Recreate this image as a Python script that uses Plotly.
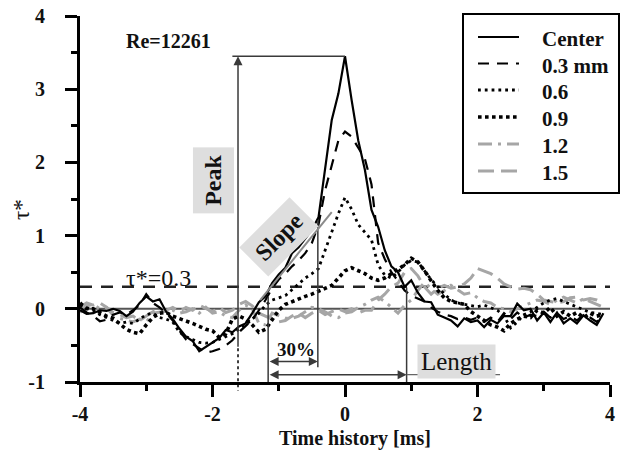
import plotly.graph_objects as go

time_ms = [-4.0, -3.9, -3.8, -3.7, -3.6, -3.5, -3.4, -3.3, -3.2, -3.1,
           -3.0, -2.9, -2.8, -2.7, -2.6, -2.5, -2.4, -2.3, -2.2, -2.1,
           -2.0, -1.9, -1.8, -1.7, -1.6, -1.5, -1.4, -1.3, -1.2, -1.1,
           -1.0, -0.9, -0.8, -0.7, -0.6, -0.5, -0.4, -0.3, -0.2, -0.1,
           0.0, 0.1, 0.2, 0.3, 0.4, 0.5, 0.6, 0.7, 0.8, 0.9,
           1.0, 1.1, 1.2, 1.3, 1.4, 1.5, 1.6, 1.7, 1.8, 1.9,
           2.0, 2.1, 2.2, 2.3, 2.4, 2.5, 2.6, 2.7, 2.8, 2.9,
           3.0, 3.1, 3.2, 3.3, 3.4, 3.5, 3.6, 3.7, 3.8, 3.9]

center = [-0.02, -0.07, -0.06, -0.02, -0.03, 0.0, -0.03, -0.1, -0.04, 0.08,
          0.17, 0.1, 0.13, -0.04, -0.14, -0.27, -0.38, -0.44, -0.58, -0.52,
          -0.46, -0.4, -0.29, -0.32, -0.24, -0.2, -0.06, 0.09, 0.17, 0.35,
          0.47, 0.56, 0.76, 0.84, 0.96, 1.08, 1.25, 1.95, 2.58, 2.94,
          3.45, 2.85, 2.3, 1.9, 1.35, 1.12, 0.8, 0.58, 0.5, 0.3,
          0.39, 0.22, 0.1, 0.09, -0.08, -0.12, -0.16, -0.24, -0.13, -0.18,
          -0.16, -0.25, -0.15, -0.2, -0.1, -0.1, 0.07, -0.02, 0.0, -0.16,
          -0.05, -0.18, -0.05, -0.2, -0.13, -0.2, -0.09, -0.16, -0.22, -0.06]

mm_03 = [0.02, -0.05, -0.1, -0.17, -0.15, -0.08, -0.05, -0.08, -0.02, 0.05,
         0.2, 0.08, 0.02, -0.06, -0.16, -0.3, -0.42, -0.48, -0.55, -0.6,
         -0.58, -0.55, -0.5, -0.43, -0.32, -0.24, -0.15, -0.02, 0.12, 0.28,
         0.4, 0.48, 0.58, 0.66, 0.76, 0.9, 1.15, 1.62, 1.98, 2.3,
         2.42, 2.35, 2.2, 2.05, 1.7, 0.9, 0.68, 0.5, 0.38, 0.25,
         0.18, 0.14, 0.1, 0.02, -0.04, -0.08, -0.1, -0.14, -0.12, -0.15,
         -0.12, -0.18, -0.12, -0.18, -0.06, -0.14, -0.05, -0.12, -0.08, -0.1,
         -0.04, -0.12, -0.06, -0.14, -0.1, -0.16, -0.08, -0.12, -0.18, -0.1]

mm_06 = [0.05, 0.02, -0.02, -0.08, -0.12, -0.15, -0.2, -0.18, -0.2, -0.14,
         -0.08, -0.06, -0.12, -0.14, -0.18, -0.32, -0.38, -0.42, -0.46, -0.47,
         -0.46, -0.42, -0.38, -0.34, -0.28, -0.22, -0.14, -0.06, 0.05, 0.12,
         0.15, 0.18, 0.26, 0.34, 0.42, 0.48, 0.55, 0.8, 1.05, 1.3,
         1.52, 1.36, 1.15, 1.05, 0.94, 0.6, 0.46, 0.42, 0.5, 0.6,
         0.66, 0.64, 0.52, 0.4, 0.3, 0.2, 0.12, 0.08, 0.06, 0.04,
         0.03, 0.05, 0.02, -0.02, -0.1, -0.26, -0.18, -0.08, -0.04, 0.02,
         0.08, 0.12, 0.14, 0.1, 0.06, 0.02, -0.02, -0.05, -0.06, -0.08]

mm_09 = [0.08, 0.0, 0.0, -0.05, -0.1, -0.13, -0.2, -0.28, -0.32, -0.34,
         -0.22, -0.12, -0.06, -0.05, -0.1, -0.13, -0.16, -0.2, -0.24, -0.28,
         -0.3, -0.39, -0.34, -0.14, -0.1, -0.14, -0.22, -0.32, -0.28, -0.15,
         -0.02, 0.06, 0.1, 0.14, 0.17, 0.2, 0.24, 0.28, 0.32, 0.42,
         0.52, 0.56, 0.52, 0.48, 0.42, 0.39, 0.42, 0.48, 0.53, 0.6,
         0.69, 0.64, 0.52, 0.38, 0.25, 0.15, 0.1, 0.08, 0.06, -0.04,
         -0.1, -0.16, -0.22, -0.25, -0.3, -0.2, -0.14, -0.1, -0.12, -0.02,
         -0.06, 0.02, -0.1, -0.04, -0.1, -0.05, -0.12, -0.06, -0.1, -0.08]

mm_12 = [-0.05, 0.04, 0.06, 0.0, 0.02, -0.09, -0.13, -0.15, -0.18, -0.14,
         -0.18, -0.06, -0.05, -0.03, -0.02, -0.06, -0.04, 0.0, -0.06, 0.02,
         -0.06, -0.04, -0.1, -0.12, -0.02, 0.05, 0.0, -0.2, -0.22, -0.06,
         -0.1, -0.13, -0.13, -0.1, -0.04, 0.02, 0.0, -0.04, -0.1, -0.12,
         -0.06, -0.04, 0.02, 0.06, 0.12, 0.16, 0.1, 0.02, -0.06, 0.05,
         0.12, 0.25, 0.36, 0.28, 0.2, 0.25, 0.32, 0.26, 0.2, 0.22,
         0.15, 0.1, 0.08, 0.02, 0.0, -0.04, 0.0, 0.04, 0.08, 0.12,
         0.1, 0.06, 0.12, 0.16, 0.12, 0.08, 0.14, 0.1, 0.06, 0.02]

mm_15 = [0.02, 0.08, 0.05, 0.08, 0.02, -0.05, -0.08, -0.12, -0.1, -0.16,
         -0.1, -0.04, 0.0, -0.02, 0.02, -0.04, 0.02, -0.02, 0.05, 0.0,
         -0.04, 0.02, -0.05, -0.02, 0.06, 0.1, 0.04, -0.06, -0.1, -0.14,
         -0.18, -0.16, -0.1, -0.06, -0.12, -0.06, -0.02, -0.08, -0.04, 0.0,
         -0.04, 0.0, -0.06, -0.02, -0.02, 0.12, 0.2, 0.3, 0.35, 0.5,
         0.55, 0.45, 0.3, 0.2, 0.28, 0.32, 0.28, 0.3, 0.34, 0.42,
         0.55, 0.52, 0.48, 0.42, 0.34, 0.3, 0.27, 0.28, 0.26, 0.2,
         0.12, 0.1, 0.08, 0.1, 0.15, 0.16, 0.12, 0.14, 0.12, 0.08]

series_names = ["Center", "0.3 mm", "0.6", "0.9", "1.2", "1.5"]

x_tickvals = [-4, -2, 0, 2, 4]
x_ticktext = ["-4", "-2", "0", "2", "4"]
y_tickvals = [-1, 0, 1, 2, 3, 4]
y_ticktext = ["-1", "0", "1", "2", "3", "4"]

threshold = 0.3
peak_x, peak_top, peak_bottom = -1.615, 3.45, -0.54
x_start30, x_30, x_len = -1.16, -0.41, 0.93

X_RANGE = [-4, 4]
Y_RANGE = [-1, 4]

# the page's default 8px body margin is removed by a post script,
# so the figure fills the 624x452 window exactly
W, H = 624, 452
ML, MR, MT, MB = 80, 14, 16, 70
PW, PH = W - ML - MR, H - MT - MB

FONT = "Liberation Serif"
GRAY = "#a6a6a6"
DARK = "#3a3a3a"
TXT = "#111111"

styles = [
    dict(color="black", width=2.2, dash="solid"),
    dict(color="black", width=2.2, dash="11px,8px"),
    dict(color="black", width=2.8, dash="2.8px,4px"),
    dict(color="black", width=3.6, dash="3.6px,3.4px"),
    dict(color=GRAY, width=3, dash="14px,6px,3px,6px"),
    dict(color=GRAY, width=3, dash="16px,7px"),
]
data_series = [center, mm_03, mm_06, mm_09, mm_12, mm_15]


def px_x(px):
    return (px - ML) / PW


def px_y(py):
    return (H - MB - py) / PH


fig = go.Figure()
draw_order = [4, 5, 3, 2, 1, 0]
for i in draw_order:
    fig.add_trace(go.Scatter(
        x=time_ms, y=data_series[i], mode="lines", name=series_names[i],
        line=styles[i], showlegend=False,
    ))

shapes = []
shapes.append(dict(type="line", xref="x", yref="y", x0=X_RANGE[0], x1=X_RANGE[1], y0=0, y1=0,
                   line=dict(color="#555555", width=2), layer="below"))
shapes.append(dict(type="line", xref="x", yref="y", x0=X_RANGE[0], x1=X_RANGE[1], y0=threshold, y1=threshold,
                   line=dict(color="#222222", width=2.5, dash="12px,9px"), layer="below"))
shapes.append(dict(type="line", xref="x", yref="y", x0=-1.7, x1=0, y0=peak_top, y1=peak_top,
                   line=dict(color=DARK, width=1.5)))
yspan = Y_RANGE[1] - Y_RANGE[0]
shapes.append(dict(type="line", xref="x", yref="paper", x0=peak_x, x1=peak_x,
                   y0=(peak_bottom - Y_RANGE[0]) / yspan, y1=(-1.12 - Y_RANGE[0]) / yspan,
                   line=dict(color="black", width=1.5, dash="3px,3px")))
shapes.append(dict(type="line", xref="x", yref="y", x0=x_start30, x1=x_start30, y0=-1.0, y1=0.16,
                   line=dict(color=DARK, width=1.5)))
shapes.append(dict(type="line", xref="x", yref="y", x0=x_30, x1=x_30, y0=-0.8, y1=1.21,
                   line=dict(color=DARK, width=1.5)))
shapes.append(dict(type="line", xref="x", yref="y", x0=x_len, x1=x_len, y0=-1.0, y1=0.29,
                   line=dict(color=DARK, width=1.5)))
shapes.append(dict(type="line", xref="x", yref="y", x0=-1.28, x1=-0.2, y0=0.12, y1=1.32,
                   line=dict(color="#8a8a8a", width=2)))
shapes.append(dict(type="line", xref="x", yref="y", x0=x_len, x1=2.34, y0=-0.9, y1=-0.9,
                   line=dict(color="#666666", width=1.2)))

# manual legend box
shapes.append(dict(type="rect", xref="paper", yref="paper",
                   x0=px_x(463), x1=px_x(619), y0=px_y(193), y1=px_y(14),
                   line=dict(color="black", width=2), fillcolor="white", layer="above"))
legend_line_y = [37, 63.5, 90, 117, 144, 171]
annotations = []
for i, name in enumerate(series_names):
    ly = legend_line_y[i]
    shapes.append(dict(type="line", xref="paper", yref="paper",
                       x0=px_x(478), x1=px_x(519), y0=px_y(ly), y1=px_y(ly),
                       line=styles[i], layer="above"))
    annotations.append(dict(x=px_x(540), y=px_y(ly + 2), xref="paper", yref="paper",
                            xanchor="left", yanchor="middle", text=name, showarrow=False,
                            font=dict(family=FONT, size=21, color=TXT, weight="bold")))

annotations.append(dict(x=peak_x, y=peak_top, ax=peak_x, ay=peak_bottom, xref="x", yref="y",
                        axref="x", ayref="y", text="", showarrow=True, arrowhead=2,
                        arrowsize=1.2, arrowwidth=1.5, arrowcolor=DARK))
annotations.append(dict(x=x_30, y=-0.72, ax=x_start30, ay=-0.72, xref="x", yref="y",
                        axref="x", ayref="y", text="", showarrow=True, arrowhead=2,
                        arrowside="end+start", arrowsize=1.2, arrowwidth=1.5, arrowcolor=DARK))
annotations.append(dict(x=x_len, y=-0.9, ax=x_start30, ay=-0.9, xref="x", yref="y",
                        axref="x", ayref="y", text="", showarrow=True, arrowhead=2,
                        arrowside="end+start", arrowsize=1.2, arrowwidth=1.5, arrowcolor=DARK))


def label(text, x, y, size, bold=False, **kw):
    d = dict(x=x, y=y, xref="x", yref="y", text=text, showarrow=False,
             font=dict(family=FONT, size=size, color=TXT,
                       weight="bold" if bold else "normal"))
    d.update(kw)
    return d


annotations.append(label("Re=12261", -2.67, 3.66, 20, bold=True))
annotations.append(label("τ*=0.3", -2.82, 0.42, 24))
annotations.append(label("30%", -0.74, -0.55, 19, bold=True))
annotations.append(label("Peak", -1.99, 1.75, 24, bold=True, textangle=-90,
                         bgcolor="#dedede", borderpad=7))
annotations.append(label("Slope", -1.0, 0.98, 24, bold=True, textangle=-45,
                         bgcolor="#dedede", borderpad=7))
annotations.append(label("Length", 1.69, -0.72, 25, bgcolor="#dedede", borderpad=3))
annotations.append(dict(x=px_x(22), y=(1.35 - Y_RANGE[0]) / yspan, xref="paper", yref="paper",
                        xanchor="center", yanchor="middle",
                        text="τ*", showarrow=False, textangle=-90,
                        font=dict(family=FONT, size=23, color=TXT)))
annotations.append(dict(x=px_x(355), y=px_y(438), xref="paper", yref="paper",
                        xanchor="center", yanchor="middle",
                        text="Time history [ms]", showarrow=False,
                        font=dict(family=FONT, size=20, color=TXT, weight="bold")))

axis_common = dict(
    showline=True, linecolor="black", linewidth=3, mirror=False,
    showgrid=False, zeroline=False,
    ticks="outside", ticklen=12, tickwidth=3, tickcolor="black",
    tickfont=dict(family=FONT, size=20, color=TXT, weight="bold"),
    ticklabeloverflow="allow",
)

fig.update_layout(
    width=W, height=H,
    margin=dict(l=ML, r=MR, t=MT, b=MB, autoexpand=False),
    paper_bgcolor="white", plot_bgcolor="white",
    shapes=shapes, annotations=annotations,
    showlegend=False,
    xaxis=dict(range=X_RANGE, tickvals=x_tickvals, ticktext=x_ticktext,
               minor=dict(dtick=1, ticks="outside", ticklen=6, tickwidth=3, tickcolor="black"),
               ticklabelstandoff=0, **axis_common),
    yaxis=dict(range=Y_RANGE, tickvals=y_tickvals, ticktext=y_ticktext,
               minor=dict(dtick=0.5, ticks="outside", ticklen=6, tickwidth=3, tickcolor="black"),
               ticklabelstandoff=16, **axis_common),
)

fig.write_html("out.html",
               config={"displayModeBar": False},
               post_script="document.body.style.margin='0';document.body.style.padding='0';")
